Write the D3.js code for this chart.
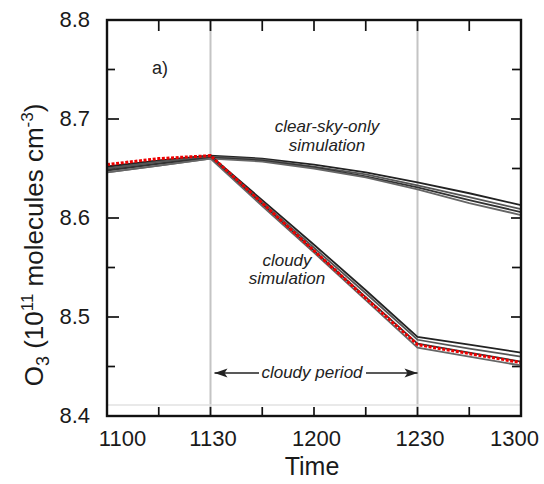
<!DOCTYPE html>
<html>
<head>
<meta charset="utf-8">
<script src="https://cdn.jsdelivr.net/npm/d3@7"></script>
<style>
  html, body { margin: 0; padding: 0; background: #fff; }
  svg { display: block; font-family: "Liberation Sans", Arial, Helvetica, sans-serif; }
</style>
</head>
<body>
<svg id="chart" width="544" height="484"></svg>
<script>
// ---- data ----
const times = ["1100", "1115", "1130", "1145", "1200", "1215", "1230", "1245", "1300"];
const xTickLabels = ["1100", "1130", "1200", "1230", "1300"];
const yTicksMajor = [8.4, 8.5, 8.6, 8.7, 8.8];
const yTicksMinor = [8.45, 8.55, 8.65, 8.75];
const cloudyPeriod = ["1130", "1230"];

// clear-sky-only simulation ensemble
const clearSky1 = [8.652, 8.658, 8.663, 8.660, 8.654, 8.646, 8.636, 8.625, 8.613];
const clearSky2 = [8.650, 8.657, 8.662, 8.659, 8.652, 8.644, 8.633, 8.621, 8.609];
const clearSky3 = [8.648, 8.655, 8.661, 8.658, 8.651, 8.642, 8.631, 8.618, 8.606];
const clearSky4 = [8.646, 8.653, 8.660, 8.657, 8.650, 8.641, 8.629, 8.615, 8.603];
// cloudy simulation ensemble
const cloudy1 = [8.652, 8.658, 8.663, 8.618, 8.573, 8.527, 8.480, 8.472, 8.464];
const cloudy2 = [8.650, 8.657, 8.662, 8.616, 8.570, 8.524, 8.477, 8.468, 8.460];
const cloudy3 = [8.648, 8.655, 8.661, 8.614, 8.567, 8.520, 8.473, 8.464, 8.455];
const cloudy4 = [8.646, 8.653, 8.660, 8.612, 8.565, 8.517, 8.469, 8.460, 8.451];
// highlighted (red dotted) series
const highlight = [8.654, 8.660, 8.663, 8.615, 8.567, 8.519, 8.472, 8.463, 8.454];

(function () {
const svg = d3.select("#chart");
const L = 107, R = 521, T = 20, B = 416;

const x = d3.scalePoint().domain(times).range([L, R]).padding(0);
const y = d3.scaleLinear().domain([8.4, 8.8]).range([B, T]);

// vertical gray lines for cloudy period bounds
svg.selectAll("line.vbar").data(cloudyPeriod).enter().append("line")
  .attr("class", "vbar")
  .attr("x1", d => x(d)).attr("x2", d => x(d))
  .attr("y1", T).attr("y2", B)
  .attr("stroke", "#c4c4c4").attr("stroke-width", 2);

// faint scan line near bottom
svg.append("line")
  .attr("x1", L).attr("x2", R)
  .attr("y1", y(8.411)).attr("y2", y(8.411))
  .attr("stroke", "#e2e2e2").attr("stroke-width", 1.5);

// axis labels via d3 axes (no domain, no tick lines)
const isMajor = d => yTicksMajor.some(v => Math.abs(v - d) < 1e-9);
const gBottom = svg.append("g").attr("transform", `translate(0,${B})`)
  .call(d3.axisBottom(x).tickValues(xTickLabels).tickSize(0).tickPadding(14));
const gLeft = svg.append("g").attr("transform", `translate(${L},0)`)
  .call(d3.axisLeft(y).tickValues(yTicksMajor).tickSize(0).tickPadding(17).tickFormat(d3.format(".1f")));
[gBottom, gLeft].forEach(g => {
  g.select(".domain").remove();
  g.selectAll(".tick line").remove();
  g.selectAll("text").attr("fill", "#1a1a1a").style("font-size", "22px");
});
gLeft.selectAll(".tick text").attr("dy", "0.28em");
gBottom.selectAll(".tick text").attr("dx", d => d === times[0] ? 15 : (d === times[times.length - 1] ? -7 : 2));

// inward tick marks drawn from the scales
const ticks = svg.append("g").attr("stroke", "#111").attr("stroke-width", 1.7);
const xInner = times.slice(1, -1);
ticks.selectAll("line.xb").data(xInner).enter().append("line")
  .attr("x1", d => x(d)).attr("x2", d => x(d)).attr("y1", B).attr("y2", B - 9);
ticks.selectAll("line.xt").data(xInner).enter().append("line")
  .attr("x1", d => x(d)).attr("x2", d => x(d)).attr("y1", T).attr("y2", T + 11);
const yInner = yTicksMajor.concat(yTicksMinor).filter(v => v > 8.4 && v < 8.8);
ticks.selectAll("line.yl").data(yInner).enter().append("line")
  .attr("x1", L).attr("x2", d => L + (isMajor(d) ? 12 : 8))
  .attr("y1", d => y(d)).attr("y2", d => y(d));
ticks.selectAll("line.yr").data(yInner).enter().append("line")
  .attr("x1", R).attr("x2", d => R - (isMajor(d) ? 10 : 9))
  .attr("y1", d => y(d)).attr("y2", d => y(d));

// series
const line = d3.line().x((d, i) => x(times[i])).y(d => y(d));
const clearSeries = [clearSky1, clearSky2, clearSky3, clearSky4];
const cloudySeries = [cloudy1, cloudy2, cloudy3, cloudy4];
const shades = ["#222", "#555", "#333", "#666"];

svg.selectAll("path.clear").data(clearSeries).enter().append("path")
  .attr("class", "clear").attr("d", line).attr("fill", "none")
  .attr("stroke", (d, i) => shades[i]).attr("stroke-width", 1.8);
svg.selectAll("path.cloudy").data(cloudySeries).enter().append("path")
  .attr("class", "cloudy").attr("d", line).attr("fill", "none")
  .attr("stroke", (d, i) => shades[i]).attr("stroke-width", 1.8);

svg.append("path").datum(highlight).attr("d", line).attr("fill", "none")
  .attr("stroke", "#ee0000").attr("stroke-width", 3).attr("stroke-dasharray", "3,1.6");

// frame
svg.append("rect").attr("x", L).attr("y", T).attr("width", R - L).attr("height", B - T)
  .attr("fill", "none").attr("stroke", "#111").attr("stroke-width", 2.4);

// annotations
svg.append("text").attr("x", 152).attr("y", 74).style("font-size", "18px").attr("fill", "#222").text("a)");

const ann = svg.append("g").style("font-size", "17px").style("font-style", "italic")
  .attr("fill", "#222").attr("text-anchor", "middle");
ann.append("text").attr("x", 327).attr("y", 132).text("clear-sky-only");
ann.append("text").attr("x", 327).attr("y", 151).text("simulation");
ann.append("text").attr("x", 287).attr("y", 266).text("cloudy");
ann.append("text").attr("x", 287).attr("y", 284).text("simulation");
ann.append("text").attr("x", 312).attr("y", 378).text("cloudy period");

// cloudy period arrow
const ay = 373;
const xa = x(cloudyPeriod[0]) + 4, xb = x(cloudyPeriod[1]);
svg.append("line").attr("x1", xa).attr("x2", 259).attr("y1", ay).attr("y2", ay)
  .attr("stroke", "#222").attr("stroke-width", 1.6);
svg.append("line").attr("x1", 366).attr("x2", xb).attr("y1", ay).attr("y2", ay)
  .attr("stroke", "#222").attr("stroke-width", 1.6);
svg.append("path").attr("d", `M${xa},${ay} l13,-4.5 l-3,4.5 l3,4.5 z`).attr("fill", "#222");
svg.append("path").attr("d", `M${xb},${ay} l-13,-4.5 l3,4.5 l-3,4.5 z`).attr("fill", "#222");

// axis titles
svg.append("text").attr("x", 312).attr("y", 475).attr("text-anchor", "middle")
  .style("font-size", "25px").attr("fill", "#1a1a1a").text("Time");

const yt = svg.append("text").attr("transform", "translate(43,245) rotate(-90)")
  .attr("text-anchor", "middle").style("font-size", "26px").attr("fill", "#1a1a1a");
yt.append("tspan").text("O");
yt.append("tspan").attr("dy", 6).style("font-size", "18px").text("3");
yt.append("tspan").attr("dy", -6).text(" (10");
yt.append("tspan").attr("dy", -10).style("font-size", "17px").text("11");
yt.append("tspan").attr("dy", 10).text(" molecules cm");
yt.append("tspan").attr("dy", -10).style("font-size", "17px").text("-3");
yt.append("tspan").attr("dy", 10).text(")");
})();
</script>
</body>
</html>
